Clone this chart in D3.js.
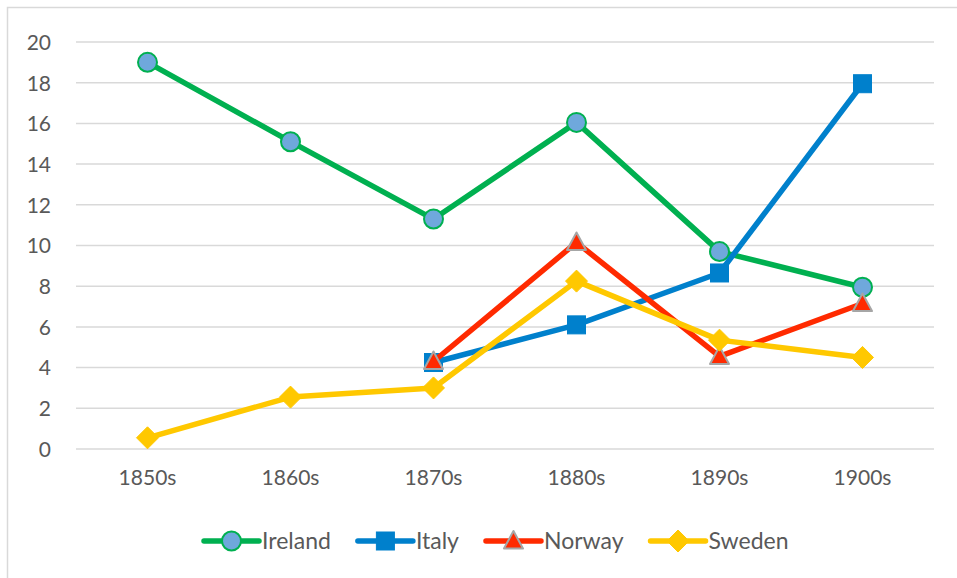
<!DOCTYPE html>
<html>
<head>
<meta charset="utf-8">
<script src="https://cdn.jsdelivr.net/npm/d3@7"></script>
<style>
  html, body { margin: 0; padding: 0; background: #fff; }
  svg { display: block; }
  text { font-family: Lato, "Open Sans", sans-serif; fill: #595959; }
</style>
</head>
<body>
<svg id="chart" width="957" height="578"></svg>
<script>
const categories = ["1850s", "1860s", "1870s", "1880s", "1890s", "1900s"];
const yTicks = [0, 2, 4, 6, 8, 10, 12, 14, 16, 18, 20];
const ireland = [19.0, 15.1, 11.3, 16.05, 9.7, 7.95];
const italy   = [null, null, 4.25, 6.1, 8.65, 17.95];
const norway  = [null, null, 4.3, 10.15, 4.55, 7.15];
const sweden  = [0.55, 2.55, 3.0, 8.25, 5.35, 4.5];
const seriesNames = ["Ireland", "Italy", "Norway", "Sweden"];

const seriesDefs = [
  { name: seriesNames[0], values: ireland, color: "#00B050", marker: "circle", fill: "#6FA8DC", stroke: "#00B050" },
  { name: seriesNames[1], values: italy,   color: "#0080CC", marker: "square", fill: "#0080CC", stroke: "#0080CC" },
  { name: seriesNames[2], values: norway,  color: "#FF2A00", marker: "triangle", fill: "#FF2A00", stroke: "#A6A6A6" },
  { name: seriesNames[3], values: sweden,  color: "#FFC800", marker: "diamond", fill: "#FFC800", stroke: "#FFC800" }
];

const svg = d3.select("#chart");
const plot = { left: 76, right: 934, top: 42, bottom: 449 };

// chart border (top and left visible)
svg.append("rect").attr("x", 7.5).attr("y", 7.5).attr("width", 960).attr("height", 580)
  .attr("fill", "none").attr("stroke", "#D9D9D9").attr("stroke-width", 1.5);

const x = d3.scaleBand().domain(categories).range([plot.left, plot.right]);
const y = d3.scaleLinear().domain([0, 20]).range([plot.bottom, plot.top]);
const cx = c => x(c) + x.bandwidth() / 2;

// gridlines
svg.append("g").selectAll("line").data(yTicks).join("line")
  .attr("x1", plot.left).attr("x2", plot.right)
  .attr("y1", d => y(d)).attr("y2", d => y(d))
  .attr("stroke", "#D9D9D9").attr("stroke-width", 1.5);

// y axis labels
const yAxis = d3.axisLeft(y).tickValues(yTicks).tickSize(0).tickPadding(0);
const gy = svg.append("g").attr("transform", `translate(51,0)`).call(yAxis);
gy.select(".domain").remove();
gy.selectAll("text").style("font-size", "21px").style("fill", "#595959")
  .style("font-family", "Lato, 'Open Sans', sans-serif").attr("dy", "0.35em");

// x axis labels
const xAxis = d3.axisBottom(x).tickSize(0).tickPadding(0);
const gx = svg.append("g").attr("transform", `translate(0,${plot.bottom + 21})`).call(xAxis);
gx.select(".domain").remove();
gx.selectAll("text").style("font-size", "21px").style("fill", "#595959")
  .style("font-family", "Lato, 'Open Sans', sans-serif").attr("dy", "0.71em");

function drawMarker(g, s, px, py) {
  if (s.marker === "circle") {
    g.append("circle").attr("cx", px).attr("cy", py).attr("r", 9.5)
      .attr("fill", s.fill).attr("stroke", s.stroke).attr("stroke-width", 2);
  } else if (s.marker === "square") {
    g.append("rect").attr("x", px - 9).attr("y", py - 9).attr("width", 18).attr("height", 18)
      .attr("fill", s.fill).attr("stroke", s.stroke).attr("stroke-width", 1);
  } else if (s.marker === "triangle") {
    const r = 10;
    g.append("path").attr("d", `M${px},${py - r} L${px + r * 0.95},${py + r * 0.75} L${px - r * 0.95},${py + r * 0.75} Z`)
      .attr("fill", s.fill).attr("stroke", s.stroke).attr("stroke-width", 2).attr("stroke-linejoin", "round");
  } else if (s.marker === "diamond") {
    const r = 11;
    g.append("path").attr("d", `M${px},${py - r} L${px + r},${py} L${px},${py + r} L${px - r},${py} Z`)
      .attr("fill", s.fill).attr("stroke", s.stroke).attr("stroke-width", 1).attr("stroke-linejoin", "round");
  }
}

const line = d3.line()
  .defined(d => d.v !== null)
  .x(d => cx(d.c)).y(d => y(d.v));

seriesDefs.forEach(s => {
  const g = svg.append("g");
  const pts = categories.map((c, i) => ({ c, v: s.values[i] }));
  g.append("path").datum(pts).attr("d", line)
    .attr("fill", "none").attr("stroke", s.color).attr("stroke-width", 5.5)
    .attr("stroke-linejoin", "round").attr("stroke-linecap", "round");
  pts.filter(d => d.v !== null).forEach(d => drawMarker(g, s, cx(d.c), y(d.v)));
});

// legend
const legY = 541;
let lx = 204;
seriesDefs.forEach(s => {
  const g = svg.append("g");
  g.append("line").attr("x1", lx).attr("x2", lx + 55).attr("y1", legY).attr("y2", legY)
    .attr("stroke", s.color).attr("stroke-width", 5.5).attr("stroke-linecap", "round");
  drawMarker(g, s, lx + 27.5, legY);
  const t = g.append("text").attr("x", lx + 58).attr("y", legY).attr("dy", "0.35em")
    .style("font-size", "23px").text(s.name);
  lx += 58 + t.node().getComputedTextLength() + 27;
});
</script>
</body>
</html>
